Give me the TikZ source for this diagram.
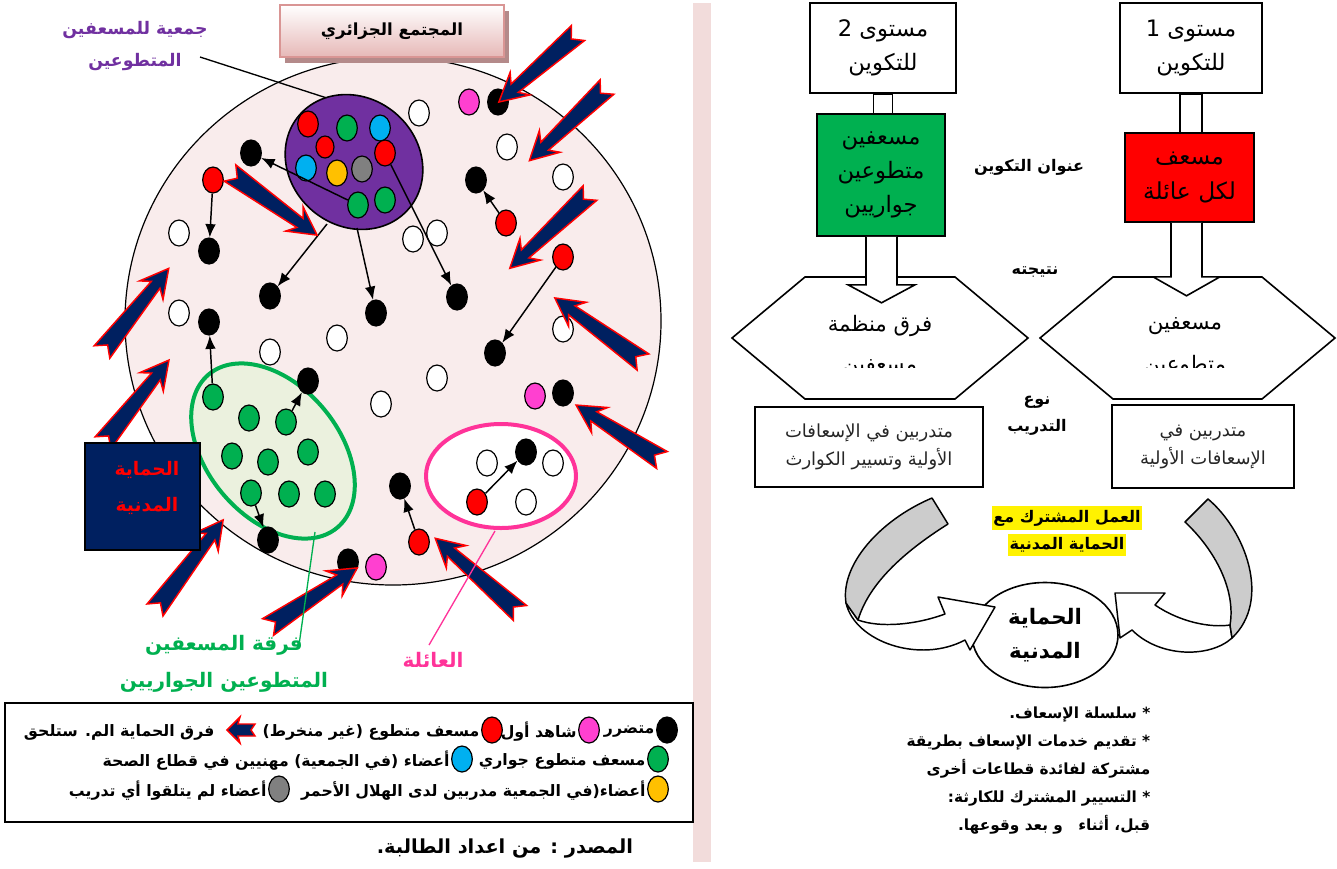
\documentclass[tikz,border=0pt]{standalone}
\usepackage{fontspec}
\usetikzlibrary{positioning}
\usetikzlibrary{shapes.geometric}
\usetikzlibrary{arrows.meta}
\usetikzlibrary{shadows}
\newfontfamily\arabicfont[Script=Arabic]{DejaVu Sans}
\TeXXeTstate=1
\newcommand\ar[1]{{\arabicfont\beginR #1\endR}}
\newcommand\txtsize[2]{\fontsize{#1}{#2}\selectfont}

\definecolor{navyblock}{RGB}{0,32,96}
\definecolor{assocpurple}{RGB}{112,48,160}
\definecolor{teamgreen}{RGB}{0,176,80}
\definecolor{teamfill}{RGB}{235,241,222}
\definecolor{medicblue}{RGB}{0,176,240}
\definecolor{crescentyellow}{RGB}{255,192,0}
\definecolor{witnesspink}{RGB}{255,64,208}
\definecolor{familypink}{RGB}{255,51,153}
\definecolor{societyfill}{RGB}{249,236,236}
\definecolor{titleborder}{RGB}{217,149,148}
\definecolor{titlefill}{RGB}{230,184,183}
\definecolor{titleshadow}{RGB}{180,138,138}
\definecolor{stripe}{RGB}{242,220,219}
\definecolor{ribbongray}{RGB}{204,204,204}

\tikzset{
  dot/.style={ellipse, draw, line width=0.9pt, minimum width=15.5pt, minimum height=19.5pt, inner sep=0pt},
  injured/.style={dot, fill=black},
  witness/.style={dot, fill=witnesspink},
  volunteer/.style={dot, fill=red},
  neighbour/.style={dot, fill=teamgreen},
  medic/.style={dot, fill=medicblue},
  trained/.style={dot, fill=crescentyellow},
  untrained/.style={dot, fill=gray},
  bystander/.style={dot, fill=white},
  link/.style={-{Latex[length=10pt,width=8pt]}, line width=1.1pt},
  rescue/.style={fill=navyblock, draw=red, line width=1.1pt},
  legendtext/.style={font=\bfseries\txtsize{11.8}{14}, inner xsep=1pt, yshift=-1.5pt},
  levelbox/.style={draw, line width=1.2pt, fill=white, minimum width=109.5pt, minimum height=67.5pt, align=center, font=\txtsize{17}{26}},
  stem/.style={draw, line width=1.2pt, fill=white},
  hollowarrow/.style={draw, line width=1.2pt, fill=white, line join=miter},
  sidelabel/.style={font=\bfseries\txtsize{12}{20}, align=center},
  trainbox/.style={draw, line width=1.2pt, align=center, text=black!85, font=\txtsize{13.5}{21}},
  highlight/.style={fill=yellow, font=\bfseries\txtsize{12}{14}, inner xsep=1pt, inner ysep=3pt},
  ribbon/.style={draw, line width=1.1pt, line join=round}
}

% navy block arrow with red rim: tail x, tail y, angle, length
\newcommand\rescuearrow[4]{%
\begin{scope}[shift={(#1,#2)}, rotate=#3]
\filldraw[rescue] (9,0) -- (0,10) -- (#4-21,5.5) -- (#4-28,15) -- (#4,0) -- (#4-28,-15) -- (#4-21,-5.5) -- (0,-10) -- cycle;
\end{scope}}

\begin{document}
\begin{tikzpicture}[x=0.75pt, y=-0.75pt]
\useasboundingbox (0,0) rectangle (1337,868);

\fill[stripe] (693,3) rectangle (711,862);

%% the community
\draw[fill=societyfill, line width=0.9pt] (393,321) ellipse (268 and 264);

\node[draw=titleborder, line width=1.5pt, top color=white, bottom color=titlefill, minimum width=168pt, minimum height=39pt,
  drop shadow={shadow xshift=3.5pt, shadow yshift=-4.5pt, fill=titleshadow, opacity=1}, font=\bfseries\txtsize{12.5}{14}] (society) at (392,31) {\ar{المجتمع الجزائري}};

\node[text=assocpurple, align=center, font=\bfseries\txtsize{13}{24}] (assoclabel) at (135,46) {\ar{جمعية للمسعفين}\\\ar{المتطوعين}};
\coordinate (assoctail) at (200,57);
\coordinate (assocpin) at (333,100);
\draw[line width=1pt] (assoctail) -- (assocpin);

% association, neighbourhood team, family
\draw[fill=assocpurple, line width=1.2pt, rotate around={-40:(354,162)}] (354,162) ellipse (72 and 64);
\draw[fill=teamfill, draw=teamgreen, line width=3pt, rotate around={-50:(273,451)}] (273,451) ellipse (100 and 66);
\draw[fill=white, draw=familypink, line width=3pt] (501,476) ellipse (75 and 52);

\coordinate (assocL) at (327,224);
\coordinate (assocR) at (357,228);

% members of the association
\node[volunteer] (a1) at (308,124) {};
\node[neighbour] (a2) at (347,128) {};
\node[medic] (a3) at (380,128) {};
\node[volunteer, minimum width=13.5pt, minimum height=16.5pt] (a4) at (325,147) {};
\node[volunteer] (a5) at (385,153) {};
\node[medic] (a6) at (306,168) {};
\node[trained] (a7) at (337,173) {};
\node[untrained] (a8) at (362,169) {};
\node[neighbour] (a9) at (358,205) {};
\node[neighbour] (a10) at (385,200) {};

% people in the community
\node[bystander] (w1) at (419,113) {};
\node[witness] (p1) at (469,102) {};
\node[injured] (b1) at (498,102) {};
\node[bystander] (w2) at (507,147) {};
\node[bystander] (w3) at (563,177) {};
\node[injured] (b2) at (476,180) {};
\node[volunteer] (r1) at (506,223) {};
\node[injured] (b3) at (251,153) {};
\node[volunteer] (r2) at (213,180) {};
\node[bystander] (w4) at (179,233) {};
\node[injured] (b4) at (209,251) {};
\node[bystander] (w5) at (413,239) {};
\node[bystander] (w6) at (437,233) {};
\node[volunteer] (r3) at (563,257) {};
\node[injured] (b5) at (270,296) {};
\node[injured] (b6) at (376,313) {};
\node[injured] (b7) at (457,297) {};
\node[bystander] (w7) at (179,313) {};
\node[injured] (b8) at (209,322) {};
\node[bystander] (w8) at (563,329) {};
\node[injured] (b9) at (495,353) {};
\node[bystander] (w9) at (337,338) {};
\node[bystander] (w10) at (270,352) {};
\node[bystander] (w11) at (437,378) {};
\node[bystander] (w12) at (381,404) {};
\node[injured] (b10) at (308,381) {};
\node[witness] (p2) at (535,396) {};
\node[injured] (b11) at (563,393) {};

% neighbourhood team
\node[neighbour] (g1) at (213,397) {};
\node[neighbour] (g2) at (249,418) {};
\node[neighbour] (g3) at (286,422) {};
\node[neighbour] (g4) at (232,456) {};
\node[neighbour] (g5) at (268,462) {};
\node[neighbour] (g6) at (308,452) {};
\node[neighbour] (g7) at (251,493) {};
\node[neighbour] (g8) at (289,494) {};
\node[neighbour] (g9) at (325,494) {};
\node[injured] (b12) at (268,540) {};

\node[injured] (b13) at (400,486) {};
\node[volunteer] (r4) at (419,542) {};
\node[injured] (b14) at (348,562) {};
\node[witness] (p3) at (376,567) {};

% family
\node[bystander] (f1) at (487,463) {};
\node[injured] (f2) at (526,452) {};
\node[bystander] (f3) at (553,463) {};
\node[volunteer] (f4) at (477,502) {};
\node[bystander] (f5) at (526,502) {};

\draw[link] (a9) -- (b3);
\draw[link] (a5) -- (b7);
\draw[link] (assocL) -- (b5);
\draw[link] (assocR) -- (b6);
\draw[link] (r2) -- (b4);
\draw[link] (r1) -- (b2);
\draw[link] (r3) -- (b9);
\draw[link] (g1) -- (b8);
\draw[link] (g3) -- (b10);
\draw[link] (g7) -- (b12);
\draw[link] (r4) -- (b13);
\draw[link] (f4) -- (f2);

% civil protection teams coming in
\rescuearrow{578}{33}{221.1}{105}
\rescuearrow{607}{87}{223.5}{107}
\rescuearrow{590}{193}{223.2}{110}
\rescuearrow{643}{362}{144}{109}
\rescuearrow{662}{460}{147.4}{102}
\rescuearrow{102}{352}{51.4}{107}
\rescuearrow{103}{443}{51.5}{106}
\rescuearrow{230}{173}{-35.5}{107}
\rescuearrow{155}{610}{52.9}{113}
\rescuearrow{268}{627}{33.5}{107}
\rescuearrow{520}{613}{138.6}{113}

\node[fill=navyblock, draw=black, line width=1pt, minimum width=86.25pt, minimum height=80.25pt] (civil) at (142.5,496.5) {};
\node[text=red, align=center, font=\bfseries\txtsize{14}{27.5}] (civiltext) at (147,488) {\ar{الحماية}\\\ar{المدنية}};

\node[text=teamgreen, align=center, font=\bfseries\txtsize{15}{27.75}] (teamlabel) at (224,664) {\ar{فرقة المسعفين}\\\ar{المتطوعين الجواريين}};
\node[text=familypink, font=\bfseries\txtsize{15}{18}] (familylabel) at (433,660) {\ar{العائلة}};
\coordinate (teampin) at (315,532);
\coordinate (familypin) at (495,531);
\draw[teamgreen, line width=1pt] (teampin) -- (299,645);
\draw[familypink, line width=1pt] (familypin) -- (429,645);

%% legend
\node[draw, line width=1.5pt, minimum width=516pt, minimum height=89.25pt] (legend) at (349,762.5) {};
\node[injured] (kinjured) at (667,730) {};
\node[legendtext, left=0pt of kinjured] (tinjured) {\ar{متضرر}};
\node[witness] (kwitness) at (589,730) {};
\node[legendtext, left=0pt of kwitness] (twitness) {\ar{شاهد أول}};
\node[volunteer] (kvolunteer) at (492,730) {};
\node[legendtext, left=0pt of kvolunteer] (tvolunteer) {\ar{مسعف متطوع (غير منخرط)}};
\coordinate (karrow) at (255,730);
\filldraw[rescue] (karrow) ++(0,-6) -- ++(-4,6) -- ++(4,6) -- ++(-17,0) -- ++(2,7) -- ++(-13,-13) -- ++(13,-13) -- ++(-2,7) -- cycle;
\node[legendtext, anchor=east] (tarrow) at (216,730) {\ar{فرق الحماية الم. ستلحق}};
\node[neighbour] (kneighbour) at (658,759) {};
\node[legendtext, left=0pt of kneighbour] (tneighbour) {\ar{مسعف متطوع جواري}};
\node[medic] (kmedic) at (462,759) {};
\node[legendtext, left=0pt of kmedic] (tmedic) {\ar{أعضاء (في الجمعية) مهنيين في قطاع الصحة}};
\node[trained] (ktrained) at (658,789) {};
\node[legendtext, left=0pt of ktrained] (ttrained) {\ar{أعضاء(في الجمعية مدربين لدى الهلال الأحمر}};
\node[untrained] (kuntrained) at (279,789) {};
\node[legendtext, left=0pt of kuntrained] (tuntrained) {\ar{أعضاء لم يتلقوا أي تدريب}};

\node[font=\bfseries\txtsize{14.5}{16}] (source) at (505,848) {\ar{المصدر : من اعداد الطالبة.}};

%% training levels
\node[levelbox] (level2) at (883,48) {\ar{مستوى 2}\\\ar{للتكوين}};
\node[levelbox, minimum width=106.5pt] (level1) at (1191,48) {\ar{مستوى 1}\\\ar{للتكوين}};
\draw[stem] (level2.south) ++(-9.5,0) rectangle ++(19,21);
\draw[stem] (level1.south) ++(-11,0) rectangle ++(22,40);

\node[draw, line width=1.2pt, fill=teamgreen, minimum width=96pt, minimum height=91.5pt, align=center,
  font=\txtsize{17}{25.5}] (neighbours) at (881,175) {\ar{مسعفين}\\\ar{متطوعين}\\\ar{جواريين}};
\node[draw, line width=1.2pt, fill=red, minimum width=96.75pt, minimum height=66.75pt, align=center,
  font=\txtsize{17.5}{26}] (familyaid) at (1189.5,177.5) {\ar{مسعف}\\\ar{لكل عائلة}};

\node[sidelabel] (topic) at (1029,167) {\ar{عنوان التكوين}};
\node[sidelabel] (result) at (1035,272) {\ar{نتيجته}};
\node[sidelabel] (kind) at (1037,416) {\ar{نوع}\\\ar{التدريب}};

% outcome hexagons
\draw[line width=1.2pt, fill=white] (732,338) -- (805,277) -- (955,277) -- (1028,338) -- (955,399) -- (805,399) -- cycle;
\draw[line width=1.2pt, fill=white] (1040,338) -- (1113,277) -- (1262,277) -- (1335,338) -- (1262,399) -- (1113,399) -- cycle;
\node[font=\txtsize{16}{18}] (teams) at (880,326) {\ar{فرق منظمة}};
\node[font=\txtsize{16}{18}] (aiders) at (1185,326) {\ar{مسعفين}};
\begin{scope}
\clip (790,340) rectangle (970,367);
\node[font=\txtsize{16}{18}, anchor=base] (teams2) at (880,371) {\ar{مسعفين}};
\end{scope}
\begin{scope}
\clip (1100,340) rectangle (1275,367);
\node[font=\txtsize{16}{18}, anchor=base] (aiders2) at (1185,371) {\ar{متطوعين}};
\end{scope}

\draw[hollowarrow] (neighbours.south) ++(-15,0) -- ++(0,48) -- ++(-18,0) -- ++(33.5,18) -- ++(33.5,-18) -- ++(-18,0) -- ++(0,-48);
\draw[hollowarrow] (familyaid.south) ++(-18.5,0) -- ++(0,54) -- ++(-18,0) -- ++(33.5,19) -- ++(33.5,-19) -- ++(-18,0) -- ++(0,-54);

\node[trainbox, minimum width=171pt, minimum height=60pt] (train2) at (869,447) {\ar{متدربين في الإسعافات}\\\ar{الأولية وتسيير الكوارث}};
\node[trainbox, minimum width=136.5pt, minimum height=62.25pt] (train1) at (1203,446.5) {\ar{متدربين في}\\\ar{الإسعافات الأولية}};

%% joint work with civil protection
\node[highlight] (joint1) at (1067,518) {\ar{العمل المشترك مع}};
\node[highlight] (joint2) at (1067,545) {\ar{الحماية المدنية}};

\node[draw, line width=1.2pt, fill=white, ellipse, minimum width=109.5pt, minimum height=78.75pt, inner sep=0pt] (core) at (1045,635) {};

% left ribbon
\filldraw[ribbon, fill=white] (846,603) .. controls (855,642) and (920,664) .. (965,640) -- (970,650) -- (995,607) -- (938,597) -- (945,614)
  .. controls (915,625) and (880,628) .. (858,620) -- cycle;
\filldraw[ribbon, fill=ribbongray] (932,498) -- (948,524) .. controls (910,548) and (870,580) .. (858,620) -- (846,603)
  .. controls (840,565) and (880,520) .. (932,498) -- cycle;
% right ribbon
\filldraw[ribbon, fill=white] (1232,638) .. controls (1210,658) and (1160,658) .. (1132,630) -- (1120,638) -- (1115,593) -- (1165,593) -- (1155,605)
  .. controls (1180,622) and (1210,628) .. (1230,625) -- cycle;
\filldraw[ribbon, fill=ribbongray] (1185,522) -- (1208,499) .. controls (1245,530) and (1272,600) .. (1232,638) -- (1230,625)
  .. controls (1236,590) and (1215,550) .. (1185,522) -- cycle;

\node[align=center, font=\bfseries\txtsize{16}{25.5}] (coretext) at (core) {\ar{الحماية}\\\ar{المدنية}};

\node[anchor=north east, align=right, font=\bfseries\txtsize{11.5}{21}] (tasks) at (1155,702) {\ar{* سلسلة الإسعاف.}\\\ar{* تقديم خدمات الإسعاف بطريقة}\\\ar{مشتركة لفائدة قطاعات أخرى}\\\ar{* التسيير المشترك للكارثة:}\\\ar{قبل، أثناء\quad و بعد وقوعها.}};

\end{tikzpicture}
\end{document}
